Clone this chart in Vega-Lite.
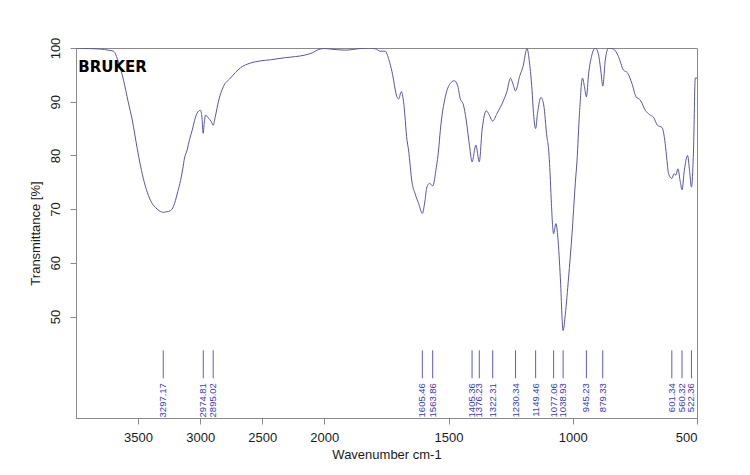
{
  "$schema": "https://vega.github.io/schema/vega-lite/v6.json",
  "autosize": {"type": "none"},
  "padding": {"left": 76, "top": 48, "right": 53, "bottom": 57},
  "width": 621,
  "height": 370,
  "background": "white",
  "config": {
    "view": {"stroke": "#8a8a8a", "strokeWidth": 1},
    "axis": {
      "grid": false,
      "domainColor": "#8a8a8a",
      "tickColor": "#8a8a8a",
      "tickSize": 6,
      "labelColor": "#1a1a1a",
      "titleColor": "#1a1a1a",
      "labelFont": "Liberation Sans",
      "titleFont": "Liberation Sans",
      "labelFontSize": 13,
      "titleFontSize": 13,
      "titleFontWeight": "normal"
    }
  },
  "datasets": {
    "spectrum": [
      {"wn": 4000, "t": 100}, {"wn": 3900, "t": 99.9}, {"wn": 3802, "t": 99.8}, {"wn": 3740, "t": 99.6},
      {"wn": 3697, "t": 99.4}, {"wn": 3660, "t": 97.5}, {"wn": 3617, "t": 94}, {"wn": 3580, "t": 90},
      {"wn": 3547, "t": 86.6}, {"wn": 3507, "t": 81.3}, {"wn": 3480, "t": 78}, {"wn": 3450, "t": 75},
      {"wn": 3416, "t": 72.5}, {"wn": 3385, "t": 71}, {"wn": 3360, "t": 70.3}, {"wn": 3330, "t": 69.7},
      {"wn": 3297, "t": 69.4}, {"wn": 3270, "t": 69.5}, {"wn": 3239, "t": 69.7}, {"wn": 3215, "t": 70.5},
      {"wn": 3199, "t": 71.6}, {"wn": 3180, "t": 73.3}, {"wn": 3158, "t": 75.3}, {"wn": 3140, "t": 77.5},
      {"wn": 3126, "t": 79.5}, {"wn": 3105, "t": 81}, {"wn": 3085, "t": 83}, {"wn": 3064, "t": 84.7},
      {"wn": 3045, "t": 86.5}, {"wn": 3024, "t": 87.9}, {"wn": 2998, "t": 88.4}, {"wn": 2985, "t": 87},
      {"wn": 2976, "t": 84.1}, {"wn": 2967, "t": 86}, {"wn": 2957, "t": 87.5}, {"wn": 2945, "t": 87.3},
      {"wn": 2931, "t": 86.9}, {"wn": 2910, "t": 86.3}, {"wn": 2895, "t": 85.6}, {"wn": 2880, "t": 87},
      {"wn": 2850, "t": 90.3}, {"wn": 2813, "t": 92.8}, {"wn": 2756, "t": 94.4}, {"wn": 2676, "t": 96.3},
      {"wn": 2595, "t": 97.2}, {"wn": 2515, "t": 97.6}, {"wn": 2434, "t": 97.8}, {"wn": 2314, "t": 98.2},
      {"wn": 2233, "t": 98.4}, {"wn": 2153, "t": 98.7}, {"wn": 2097, "t": 99.1}, {"wn": 2048, "t": 99.7},
      {"wn": 2000, "t": 99.9}, {"wn": 1976, "t": 99.8}, {"wn": 1915, "t": 99.6}, {"wn": 1855, "t": 99.9},
      {"wn": 1815, "t": 100}, {"wn": 1791, "t": 99.8}, {"wn": 1775, "t": 99.4}, {"wn": 1755, "t": 99.4},
      {"wn": 1740, "t": 97.8}, {"wn": 1727.6, "t": 95.6}, {"wn": 1707.5, "t": 90.9}, {"wn": 1701, "t": 90.5},
      {"wn": 1690, "t": 91.9}, {"wn": 1681, "t": 90}, {"wn": 1667, "t": 82.8}, {"wn": 1661, "t": 81},
      {"wn": 1647, "t": 75}, {"wn": 1634, "t": 72.8}, {"wn": 1620, "t": 71}, {"wn": 1605.46, "t": 69.2},
      {"wn": 1595, "t": 71.5}, {"wn": 1587, "t": 74.1}, {"wn": 1576, "t": 74.8}, {"wn": 1563.86, "t": 74.3},
      {"wn": 1549, "t": 77.8}, {"wn": 1540, "t": 81}, {"wn": 1533, "t": 84.7}, {"wn": 1513, "t": 90.9},
      {"wn": 1493, "t": 93.4}, {"wn": 1477, "t": 93.9}, {"wn": 1464, "t": 93.1}, {"wn": 1453, "t": 90.6},
      {"wn": 1440, "t": 89.4}, {"wn": 1429, "t": 86.6}, {"wn": 1415, "t": 81.6}, {"wn": 1405.36, "t": 78.8},
      {"wn": 1390, "t": 81.9}, {"wn": 1376.23, "t": 78.8}, {"wn": 1365, "t": 84.7}, {"wn": 1348, "t": 88.3},
      {"wn": 1339, "t": 87.8}, {"wn": 1322.31, "t": 86.4}, {"wn": 1305, "t": 87.8}, {"wn": 1278, "t": 90.3},
      {"wn": 1265, "t": 91.9}, {"wn": 1251, "t": 94.4}, {"wn": 1242, "t": 93.5}, {"wn": 1230.34, "t": 92},
      {"wn": 1214, "t": 94.7}, {"wn": 1200, "t": 96.6}, {"wn": 1184, "t": 99.9}, {"wn": 1174, "t": 97.2},
      {"wn": 1164, "t": 92.2}, {"wn": 1158, "t": 87.8}, {"wn": 1149.46, "t": 85}, {"wn": 1142, "t": 87.8},
      {"wn": 1128, "t": 90.8}, {"wn": 1117, "t": 89.4}, {"wn": 1104, "t": 83.4}, {"wn": 1097, "t": 81},
      {"wn": 1090, "t": 75.3}, {"wn": 1086, "t": 71}, {"wn": 1077.06, "t": 65.4}, {"wn": 1068, "t": 67.3},
      {"wn": 1060, "t": 64.7}, {"wn": 1050, "t": 57.2}, {"wn": 1038.93, "t": 47.4}, {"wn": 1030, "t": 50.4},
      {"wn": 1017, "t": 57.2}, {"wn": 1003, "t": 65.4}, {"wn": 990, "t": 74.7}, {"wn": 983, "t": 79},
      {"wn": 973, "t": 87.8}, {"wn": 961, "t": 94.4}, {"wn": 953, "t": 92.8}, {"wn": 945.23, "t": 90.9},
      {"wn": 936, "t": 95.3}, {"wn": 923, "t": 98.7}, {"wn": 909, "t": 100}, {"wn": 896, "t": 98.7},
      {"wn": 886, "t": 95.3}, {"wn": 879.33, "t": 92.9}, {"wn": 869, "t": 97.8}, {"wn": 856, "t": 100},
      {"wn": 836, "t": 99.8}, {"wn": 816, "t": 98.4}, {"wn": 796, "t": 95.9}, {"wn": 780, "t": 95.4},
      {"wn": 762, "t": 93.4}, {"wn": 745, "t": 90.9}, {"wn": 728, "t": 90.3}, {"wn": 708, "t": 88.4},
      {"wn": 691, "t": 87.6}, {"wn": 675, "t": 87.1}, {"wn": 659, "t": 85.6}, {"wn": 641, "t": 85.2},
      {"wn": 628, "t": 82.2}, {"wn": 621, "t": 79.1}, {"wn": 614.5, "t": 76.6}, {"wn": 601.34, "t": 75.7},
      {"wn": 592, "t": 76.6}, {"wn": 585, "t": 76.3}, {"wn": 577, "t": 77.5}, {"wn": 567, "t": 75},
      {"wn": 560.32, "t": 73.6}, {"wn": 551, "t": 77.2}, {"wn": 538, "t": 80}, {"wn": 530, "t": 77.2},
      {"wn": 522.36, "t": 74.1}, {"wn": 514, "t": 81}, {"wn": 507, "t": 94.4}, {"wn": 500, "t": 94.4}
    ],
    "peaks": [
      {"wn": 3297.17, "label": "3297.17"}, {"wn": 2974.81, "label": "2974.81"}, {"wn": 2895.02, "label": "2895.02"},
      {"wn": 1605.46, "label": "1605.46"}, {"wn": 1563.86, "label": "1563.86"}, {"wn": 1405.36, "label": "1405.36"},
      {"wn": 1376.23, "label": "1376.23"}, {"wn": 1322.31, "label": "1322.31"}, {"wn": 1230.34, "label": "1230.34"},
      {"wn": 1149.46, "label": "1149.46"}, {"wn": 1077.06, "label": "1077.06"}, {"wn": 1038.93, "label": "1038.93"},
      {"wn": 945.23, "label": "945.23"}, {"wn": 879.33, "label": "879.33"}, {"wn": 601.34, "label": "601.34"},
      {"wn": 560.32, "label": "560.32"}, {"wn": 522.36, "label": "522.36"}
    ],
    "logo": [{"wn": 3705, "t": 96.5, "name": "BRUKER"}]
  },
  "layer": [
    {
      "data": {"name": "spectrum"},
      "mark": {"type": "line", "color": "#5656a8", "strokeWidth": 1, "interpolate": "monotone", "clip": true},
      "encoding": {
        "x": {
          "field": "wn", "type": "quantitative",
          "scale": {"domain": [4000, 2000, 500], "range": [0, 248.3, 621], "nice": false, "zero": false},
          "axis": {"values": [3500, 3000, 2500, 2000, 1500, 1000, 500], "title": "Wavenumber cm-1", "labelPadding": 7, "titlePadding": 4, "format": "d"}
        },
        "y": {
          "field": "t", "type": "quantitative",
          "scale": {"domain": [31.1, 100], "nice": false, "zero": false},
          "axis": {"values": [50, 60, 70, 80, 90, 100], "title": "Transmittance [%]", "labelAngle": -90, "labelAlign": "center", "labelBaseline": "bottom", "labelPadding": 8, "titlePadding": 7}
        }
      }
    },
    {
      "data": {"name": "peaks"},
      "mark": {"type": "rule", "color": "#5c5cc4", "strokeWidth": 1},
      "encoding": {
        "x": {"field": "wn", "type": "quantitative"},
        "y": {"datum": 43.7},
        "y2": {"datum": 38.5}
      }
    },
    {
      "data": {"name": "peaks"},
      "mark": {"type": "text", "color": "#3a3ac0", "angle": 270, "align": "right", "baseline": "middle", "font": "Liberation Sans", "fontSize": 9.5},
      "encoding": {
        "x": {"field": "wn", "type": "quantitative"},
        "y": {"datum": 37.6},
        "text": {"field": "label"}
      }
    },
    {
      "data": {"name": "logo"},
      "mark": {"type": "text", "color": "#000000", "font": "DejaVu Sans", "fontWeight": "bold", "fontSize": 15, "align": "center", "baseline": "middle"},
      "encoding": {
        "x": {"field": "wn", "type": "quantitative"},
        "y": {"field": "t", "type": "quantitative"},
        "text": {"field": "name"}
      }
    }
  ]
}
